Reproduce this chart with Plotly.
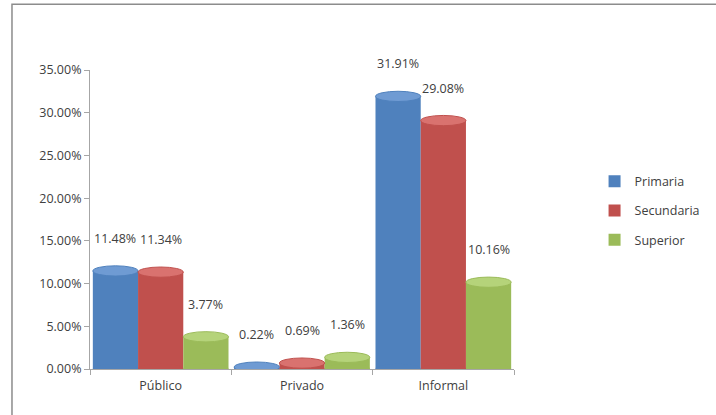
import plotly.graph_objects as go

categories = ["Público", "Privado", "Informal"]
series_names = ["Primaria", "Secundaria", "Superior"]
primaria = [0.1148, 0.0022, 0.3191]
secundaria = [0.1134, 0.0069, 0.2908]
superior = [0.0377, 0.0136, 0.1016]
y_ticks = [0, 0.05, 0.10, 0.15, 0.20, 0.25, 0.30, 0.35]

colors = ["#4F81BD", "#C0504D", "#9BBB59"]
top_colors = ["#6F9BD3", "#D9726F", "#B5D37A"]
values = [primaria, secundaria, superior]

FONT = "Open Sans"
TXT = "#404040"
BARGAP = 0.04

fig = go.Figure()
for name, vals, col in zip(series_names, values, colors):
    fig.add_trace(go.Bar(
        x=categories, y=vals, name=name, legendgroup=name,
        marker=dict(color=col, line=dict(width=0)),
    ))

w = (1 - BARGAP) / 3
eh = 0.006
shapes = []
annotations = []
for j, (vals, col, tcol) in enumerate(zip(values, colors, top_colors)):
    for i, v in enumerate(vals):
        cx = i + (j - 1) * w
        shapes.append(dict(type="circle", xref="x", yref="y",
                           x0=cx - w / 2, x1=cx + w / 2, y0=-eh, y1=eh,
                           fillcolor=col, line=dict(width=0), layer="above"))
        shapes.append(dict(type="circle", xref="x", yref="y",
                           x0=cx - w / 2, x1=cx + w / 2, y0=v - eh, y1=v + eh,
                           fillcolor=tcol, line=dict(color=col, width=1), layer="above"))
        annotations.append(dict(x=cx, y=v, xref="x", yref="y",
                                text=f"{v * 100:.2f}%", showarrow=False,
                                yanchor="bottom", yshift=22,
                                font=dict(family=FONT, size=12.5, color=TXT)))

# outer frame
shapes.append(dict(type="rect", xref="paper", yref="paper",
                   x0=-0.184, x1=1.6, y0=-0.5, y1=1.22,
                   line=dict(color="#8C8C8C", width=1.5), fillcolor="rgba(0,0,0,0)",
                   layer="below"))

fig.update_layout(
    width=716, height=415,
    margin=dict(l=90, r=196, t=70, b=46),
    paper_bgcolor="white", plot_bgcolor="white",
    barmode="group", bargap=BARGAP, bargroupgap=0,
    font=dict(family=FONT, size=12, color=TXT),
    showlegend=True,
    legend=dict(x=1.19, y=0.53, xanchor="left", yanchor="middle",
                font=dict(family=FONT, size=12.5, color=TXT),
                itemwidth=30, tracegroupgap=10, bgcolor="rgba(0,0,0,0)"),
    shapes=shapes,
    annotations=annotations,
)
fig.update_xaxes(showgrid=False, showline=True, linecolor="#A6A6A6", linewidth=1,
                 ticks="outside", tickson="boundaries", ticklen=5, tickcolor="#A6A6A6",
                 ticklabelstandoff=5,
                 tickfont=dict(family=FONT, size=12.5, color=TXT))
fig.update_yaxes(range=[0, 0.35], tickvals=y_ticks, tickformat=".2%",
                 showgrid=False, showline=True, linecolor="#A6A6A6", linewidth=1,
                 ticks="outside", ticklen=5, tickcolor="#A6A6A6", zeroline=False,
                 tickfont=dict(family=FONT, size=12.5, color=TXT))

fig.write_html("out.html", config={"displayModeBar": False},
               post_script="document.body.style.margin='0';")
